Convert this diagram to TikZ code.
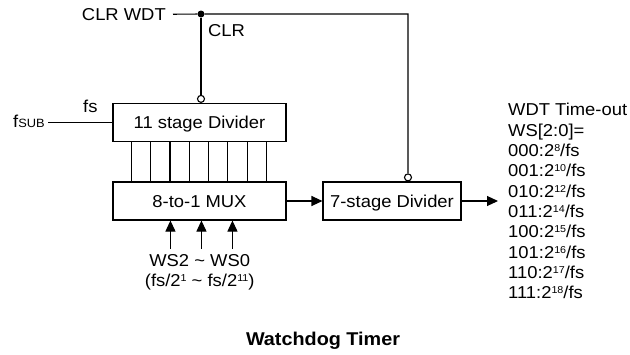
\documentclass[tikz,border=0pt]{standalone}
\usepackage{fontspec}
\setmainfont{Liberation Sans}[FakeStretch=1.07]
\usetikzlibrary{arrows.meta}
\newcommand{\pw}[1]{\raisebox{5pt}{\fontsize{10}{10}\selectfont #1}}
\newcommand{\sm}[1]{{\fontsize{12}{12}\selectfont #1}}
\begin{document}
\begin{tikzpicture}[x=1pt,y=-1pt,
  every node/.style={font=\fontsize{17.2}{20.3}\selectfont, inner sep=0pt},
  blk/.style={draw, line width=1.1pt, text height=12.3pt, text depth=0pt},
  ln/.style={line width=1.1pt},
  arr/.style={ln, -{Triangle[length=11pt,width=10pt]}},
  bubble/.style={circle, draw, line width=1.1pt, minimum size=7pt, fill=white},
  dot/.style={circle, fill, minimum size=7pt}]
\useasboundingbox (0,0) rectangle (630,354);

% blocks
\node[blk, minimum width=173pt, minimum height=38pt] (div11) at (199.5,122.5) {11 stage Divider};
\node[blk, minimum width=173pt, minimum height=38pt] (mux) at (199.5,201) {8-to-1 MUX};
\node[blk, minimum width=138pt, minimum height=38pt] (st7) at (392,201) {7-stage Divider};

% divider -> mux buses
\foreach \i in {0,...,7}
  \draw[ln] ([xshift={19pt+\i*19.29pt}]div11.south west) -- ([xshift={19pt+\i*19.29pt}]mux.north west);

% select inputs
\foreach \o in {58,89,120}
  \draw[arr] ([xshift=\o pt,yshift=-28pt]mux.south west) -- ([xshift=\o pt]mux.south west);

% clear line
\node[anchor=base east] (clrwdt) at (166,20.15) {CLR WDT};
\node[dot] (j) at (201,14) {};
\node[anchor=base west] (clr) at (208,36) {CLR};
\node[bubble, anchor=south] (b1) at (div11.north -| j) {};
\coordinate (corner) at (408,14);
\node[bubble, anchor=south] (b2) at (st7.north -| corner) {};
\draw[ln] ([xshift=7pt]clrwdt.east) -- (j) -- (corner) -- (b2);
\draw[ln] (j) -- (b1);

% clock input
\node[anchor=base west] (fsub) at (13,127) {f\sm{SUB}};
\node[anchor=base west] (fs) at (83,112) {fs};
\coordinate (fin) at (48,122.5);
\draw[ln] (fin) -- (div11.west);

% data path
\draw[arr] (mux.east) -- (st7.west);
\coordinate (outend) at (498,201);
\draw[arr] (st7.east) -- (outend);

% labels
\node[anchor=base] (ws) at (199.7,266.7) {WS2 \textasciitilde{} WS0};
\node[anchor=base] (wsf) at (199.7,286.5) {(fs/2\pw{1} \textasciitilde{} fs/2\pw{11})};

\node[anchor=north west, align=left] (tout) at (508,103.3) {WDT Time-out\\WS[2:0]=\\000:2\pw{8}/fs\\001:2\pw{10}/fs\\010:2\pw{12}/fs\\011:2\pw{14}/fs\\100:2\pw{15}/fs\\101:2\pw{16}/fs\\110:2\pw{17}/fs\\111:2\pw{18}/fs};

\node[anchor=base, font=\bfseries\fontsize{18.5}{20}\selectfont] (title) at (323,345) {Watchdog Timer};
\end{tikzpicture}
\end{document}
